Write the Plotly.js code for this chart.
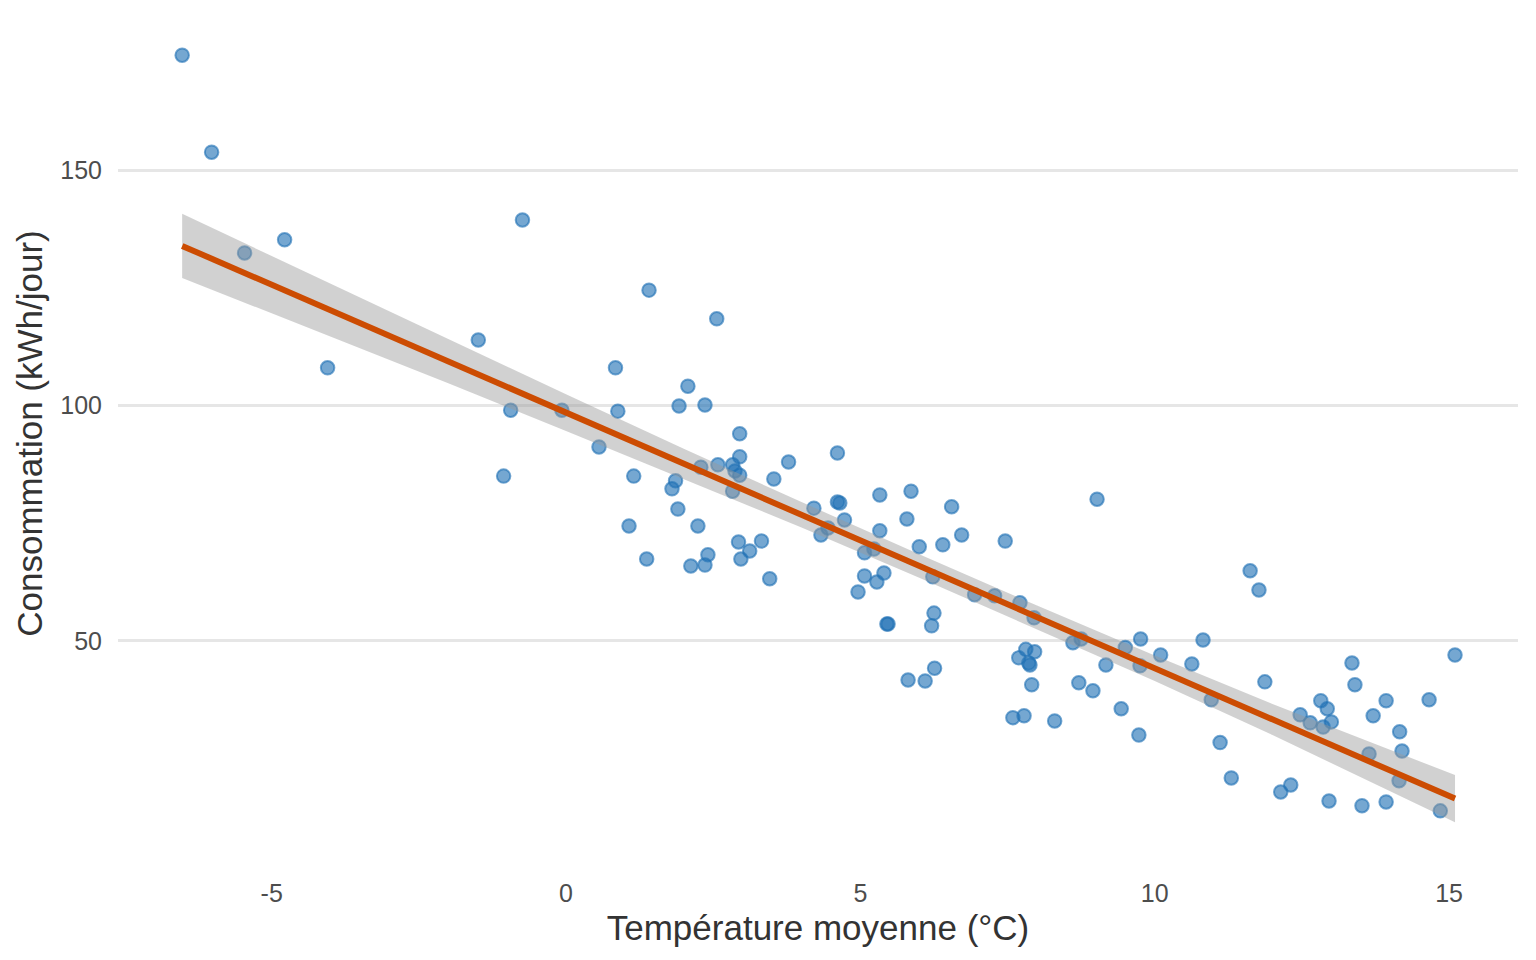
<!DOCTYPE html>
<html>
<head>
<meta charset="utf-8">
<script src="https://cdn.plot.ly/plotly-3.0.1.min.js"></script>
<style>
  html, body { margin: 0; padding: 0; background: #fff; }
  #chart { width: 1536px; height: 960px; }
</style>
</head>
<body>
<div id="chart"></div>
<script>
/**
 * Daily temperature vs. consumption
 */
var temp = [
    -6.52, -6.02, -5.46, -4.78, -4.05, -1.49, -0.94, -1.06, -0.74, -0.07,
    0.56, 0.84, 0.88, 1.15, 1.07, 1.41, 1.37, 1.80, 1.86, 1.92,
    1.90, 2.07, 2.24, 2.12, 2.29, 2.36, 2.36, 2.41, 2.56, 2.58,
    2.83, 2.83, 2.87, 2.95, 2.95, 2.95, 2.93, 2.97, 3.12, 3.32,
    3.46, 3.53, 3.78, 4.21, 4.33, 4.45, 4.61, 4.61, 4.65, 4.73,
    4.96, 5.07, 5.07, 5.23, 5.28, 5.33, 5.33, 5.40, 5.45, 5.47,
    5.79, 5.81, 5.86, 6.00, 6.10, 6.21, 6.23, 6.25, 6.26, 6.40,
    6.55, 6.72, 6.94, 7.28, 7.46, 7.59, 7.69, 7.71, 7.78, 7.81,
    7.86, 7.88, 7.91, 7.95, 7.96, 8.30, 8.61, 8.71, 8.75, 8.95,
    9.02, 9.17, 9.43, 9.50, 9.73, 9.75, 9.76, 10.10, 10.63, 10.82,
    10.96, 11.11, 11.30, 11.62, 11.77, 11.87, 12.14, 12.31, 12.47, 12.64,
    12.82, 12.86, 12.93, 12.96, 13.00, 13.35, 13.40, 13.52, 13.64, 13.71,
    13.93, 13.93, 14.16, 14.15, 14.20, 14.66, 14.85, 15.10
];
var conso = [
    174.4, 153.8, 132.4, 135.2, 108.0, 113.9, 99.0, 85.0, 139.4, 99.0,
    91.2, 108.0, 98.8, 85.0, 74.4, 124.5, 67.4, 82.3, 84.0, 99.9,
    78.0, 104.1, 74.4, 65.9, 86.9, 100.1, 66.1, 68.3, 118.4, 87.4,
    87.4, 81.8, 86.1, 94.0, 89.1, 85.2, 71.0, 67.4, 69.1, 71.2,
    63.2, 84.4, 88.0, 78.2, 72.5, 74.0, 89.9, 79.5, 79.3, 75.7,
    60.4, 68.7, 63.8, 69.5, 62.5, 81.0, 73.4, 64.4, 53.6, 53.6,
    75.9, 41.7, 81.8, 70.0, 41.5, 53.2, 63.6, 55.9, 44.2, 70.4,
    78.5, 72.5, 59.8, 59.6, 71.2, 33.7, 46.4, 58.1, 34.1, 48.2,
    45.3, 44.9, 40.7, 54.9, 47.7, 33.0, 49.6, 41.1, 50.4, 39.4,
    80.1, 44.9, 35.6, 48.6, 30.0, 44.7, 50.4, 47.0, 45.1, 50.2,
    37.5, 28.4, 20.9, 64.9, 60.8, 41.3, 17.9, 19.4, 34.3, 32.6,
    37.3, 31.7, 35.6, 16.0, 32.8, 45.3, 40.7, 15.0, 26.0, 34.1,
    37.3, 15.8, 30.7, 20.3, 26.6, 37.5, 13.9, 47.0
];

// fitted line and its confidence band
var fitX = [-6.52, -4, -2, 0, 2, 4, 6, 8, 10, 12, 15.10];
var fitY = [133.9, 120.2, 109.4, 98.5, 87.6, 76.8, 65.9, 55.0, 44.2, 33.3, 16.5];
var bandLo = [127.1, 114.6, 104.7, 94.6, 84.4, 74.1, 63.4, 52.5, 41.5, 30.0, 11.5];
var bandHi = [140.7, 125.8, 114.1, 102.4, 90.8, 79.5, 68.4, 57.5, 46.9, 36.6, 21.5];

var yTicks = [50, 100, 150];
var xTicks = [-5, 0, 5, 10, 15];

var FONT = 'Liberation Sans, Arial, Helvetica, sans-serif';

var points = {
    type: 'scatter',
    mode: 'markers',
    x: temp,
    y: conso,
    hoverinfo: 'skip',
    marker: {
        size: 13.5,
        color: 'rgba(33, 113, 181, 0.62)',
        line: { color: 'rgba(33, 113, 181, 0.62)', width: 2 }
    }
};

var band = {
    type: 'scatter',
    mode: 'lines',
    x: fitX.concat(fitX.slice().reverse()),
    y: bandHi.concat(bandLo.slice().reverse()),
    fill: 'toself',
    fillcolor: 'rgba(153, 153, 153, 0.45)',
    line: { width: 0, color: 'rgba(0,0,0,0)' },
    hoverinfo: 'skip'
};

var fit = {
    type: 'scatter',
    mode: 'lines',
    x: fitX,
    y: fitY,
    line: { color: '#cc4c02', width: 6 },
    hoverinfo: 'skip'
};

var layout = {
    width: 1536,
    height: 960,
    showlegend: false,
    paper_bgcolor: '#ffffff',
    plot_bgcolor: '#ffffff',
    margin: { l: 118, r: 18, t: 18, b: 111 },
    font: { family: FONT, color: '#4d4d4d' },
    xaxis: {
        range: [-7.61, 16.17],
        tickvals: xTicks,
        ticktext: xTicks.map(String),
        showgrid: false,
        zeroline: false,
        showline: false,
        ticks: 'outside',
        ticklen: 22,
        tickcolor: 'rgba(0,0,0,0)',
        tickfont: { size: 25, color: '#4d4d4d' },
        title: {
            text: 'Température moyenne (°C)',
            font: { size: 35, color: '#333333' },
            standoff: 9
        }
    },
    yaxis: {
        range: [5.8, 182.3],
        tickvals: yTicks,
        ticktext: yTicks.map(String),
        showgrid: true,
        gridcolor: '#e6e6e6',
        gridwidth: 3,
        zeroline: false,
        showline: false,
        ticks: 'outside',
        ticklen: 10,
        tickcolor: 'rgba(0,0,0,0)',
        tickfont: { size: 25, color: '#4d4d4d' },
        title: {
            text: 'Consommation (kWh/jour)',
            font: { size: 35, color: '#333333' },
            standoff: 7
        }
    }
};

Plotly.newPlot('chart', [points, band, fit], layout, { displayModeBar: false, staticPlot: true });
</script>
</body>
</html>
